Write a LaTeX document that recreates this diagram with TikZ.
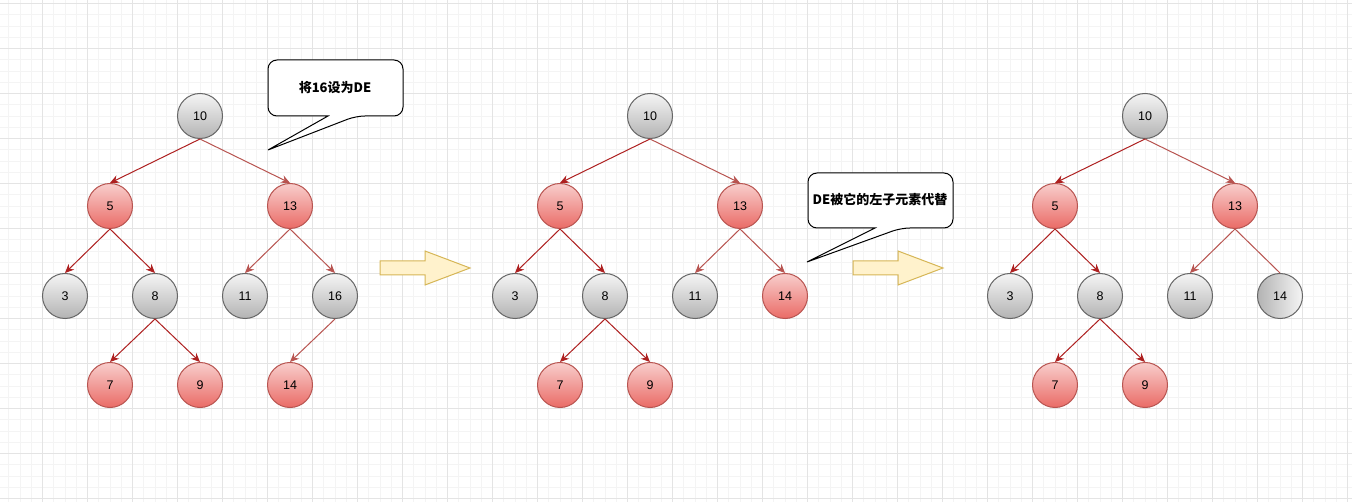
\documentclass[tikz,border=0pt]{standalone}
\usepackage{fontspec}
\setmainfont{Liberation Sans}
\newfontfamily\cjk{Noto Sans CJK SC}
\usepackage{xcolor}
\usepackage{tikz}
\usetikzlibrary{arrows.meta}

\definecolor{redline}{HTML}{B85450}
\definecolor{darkline}{HTML}{AE2020}
\definecolor{redtop}{HTML}{F8CECC}
\definecolor{redbot}{HTML}{EA6B66}
\definecolor{graytop}{HTML}{F5F5F5}
\definecolor{graybot}{HTML}{B3B3B3}
\definecolor{grayline}{HTML}{666666}
\definecolor{arrowfill}{HTML}{FFF2CC}
\definecolor{arrowline}{HTML}{D6B656}
\definecolor{gridminor}{HTML}{F4F4F4}
\definecolor{gridmajor}{HTML}{E4E4E4}

\tikzset{
	keynode/.style={circle, minimum size=45pt, inner sep=0pt, line width=1pt, font=\fontsize{12.5}{15}\selectfont},
	rednode/.style={keynode, draw=redline, top color=redtop, bottom color=redbot},
	graynode/.style={keynode, draw=grayline, top color=graytop, bottom color=graybot},
	darkedge/.style={draw=darkline, line width=1pt, -{Stealth[length=9pt,width=8pt,inset=3pt]}},
	lightedge/.style={draw=redline, line width=1pt, -{Stealth[length=9pt,width=8pt,inset=3pt]}},
	bubble/.style={draw=black, fill=white, line width=1pt, rounded corners=9pt},
	bubbletext/.style={font=\cjk\bfseries\fontsize{13}{15}\selectfont},
	bigarrow/.style={draw=arrowline, fill=arrowfill, line width=1pt}
}

\begin{document}
\begin{tikzpicture}[x=1pt, y=-1pt]
	\useasboundingbox[fill=white] (0,0) rectangle (1352,502);
	\begin{scope}[line width=0.8pt]
		\clip (0,0) rectangle (1352,502);
		\foreach \i in {0,...,121} \draw[gridminor] ({-2.5+11.25*\i},0) -- ({-2.5+11.25*\i},502);
		\foreach \i in {0,...,45} \draw[gridminor] (0,{3.5+11.25*\i}) -- (1352,{3.5+11.25*\i});
		\foreach \i in {0,...,31} \draw[gridmajor] ({-2.5+45*\i},0) -- ({-2.5+45*\i},502);
		\foreach \i in {0,...,11} \draw[gridmajor] (0,{3.5+45*\i}) -- (1352,{3.5+45*\i});
	\end{scope}

	\node[graynode] (a10) at (200,116) {10};
	\node[rednode] (a5) at (110,206) {5};
	\node[rednode] (a13) at (290,206) {13};
	\node[graynode] (a3) at (65,296) {3};
	\node[graynode] (a8) at (155,296) {8};
	\node[graynode] (a11) at (245,296) {11};
	\node[graynode] (a16) at (335,296) {16};
	\node[rednode] (a7) at (110,385) {7};
	\node[rednode] (a9) at (200,385) {9};
	\node[rednode] (a14) at (290,385) {14};
	\draw[darkedge] (a10.south) -- (a5.north);
	\draw[lightedge] (a10.south) -- (a13.north);
	\draw[darkedge] (a5.south) -- (a3.north);
	\draw[darkedge] (a5.south) -- (a8.north);
	\draw[lightedge] (a13.south) -- (a11.north);
	\draw[lightedge] (a13.south) -- (a16.north);
	\draw[darkedge] (a8.south) -- (a7.north);
	\draw[darkedge] (a8.south) -- (a9.north);
	\draw[lightedge] (a16.south) -- (a14.north);

	\draw[bubble] (328,116) -- (268,116) -- (268,60) -- (403,60) -- (403,116) -- (356,116) [sharp corners] -- (268,150) -- cycle;
	\node[bubbletext] (say1) at (335,88) {将16设为DE};

	\draw[bigarrow] (380,261) -- (425,261) -- (425,251) -- (470,268) -- (425,285) -- (425,275) -- (380,275) -- cycle;

	\node[graynode] (b10) at (650,116) {10};
	\node[rednode] (b5) at (560,206) {5};
	\node[rednode] (b13) at (740,206) {13};
	\node[graynode] (b3) at (515,296) {3};
	\node[graynode] (b8) at (605,296) {8};
	\node[graynode] (b11) at (695,296) {11};
	\node[rednode] (b14) at (785,296) {14};
	\node[rednode] (b7) at (560,385) {7};
	\node[rednode] (b9) at (650,385) {9};
	\draw[darkedge] (b10.south) -- (b5.north);
	\draw[lightedge] (b10.south) -- (b13.north);
	\draw[darkedge] (b5.south) -- (b3.north);
	\draw[darkedge] (b5.south) -- (b8.north);
	\draw[lightedge] (b13.south) -- (b11.north);
	\draw[lightedge] (b13.south) -- (b14.north);
	\draw[darkedge] (b8.south) -- (b7.north);
	\draw[darkedge] (b8.south) -- (b9.north);

	\draw[bubble] (875,228) -- (808,228) -- (808,173) -- (953,173) -- (953,228) -- (901,228) [sharp corners] -- (807,262) -- cycle;
	\node[bubbletext] (say2) at (880,200) {DE被它的左子元素代替};

	\draw[bigarrow] (853,261) -- (898,261) -- (898,251) -- (943,268) -- (898,285) -- (898,275) -- (853,275) -- cycle;

	\node[graynode] (c10) at (1145,116) {10};
	\node[rednode] (c5) at (1055,206) {5};
	\node[rednode] (c13) at (1235,206) {13};
	\node[graynode] (c3) at (1010,296) {3};
	\node[graynode] (c8) at (1100,296) {8};
	\node[graynode] (c11) at (1190,296) {11};
	\node[graynode, left color=graybot, right color=graytop] (c14) at (1280,296) {14};
	\node[rednode] (c7) at (1055,385) {7};
	\node[rednode] (c9) at (1145,385) {9};
	\draw[darkedge] (c10.south) -- (c5.north);
	\draw[lightedge] (c10.south) -- (c13.north);
	\draw[darkedge] (c5.south) -- (c3.north);
	\draw[darkedge] (c5.south) -- (c8.north);
	\draw[lightedge] (c13.south) -- (c11.north);
	\draw[redline, line width=1pt] (c13.south) -- (c14.north);
	\draw[darkedge] (c8.south) -- (c7.north);
	\draw[darkedge] (c8.south) -- (c9.north);
\end{tikzpicture}
\end{document}
